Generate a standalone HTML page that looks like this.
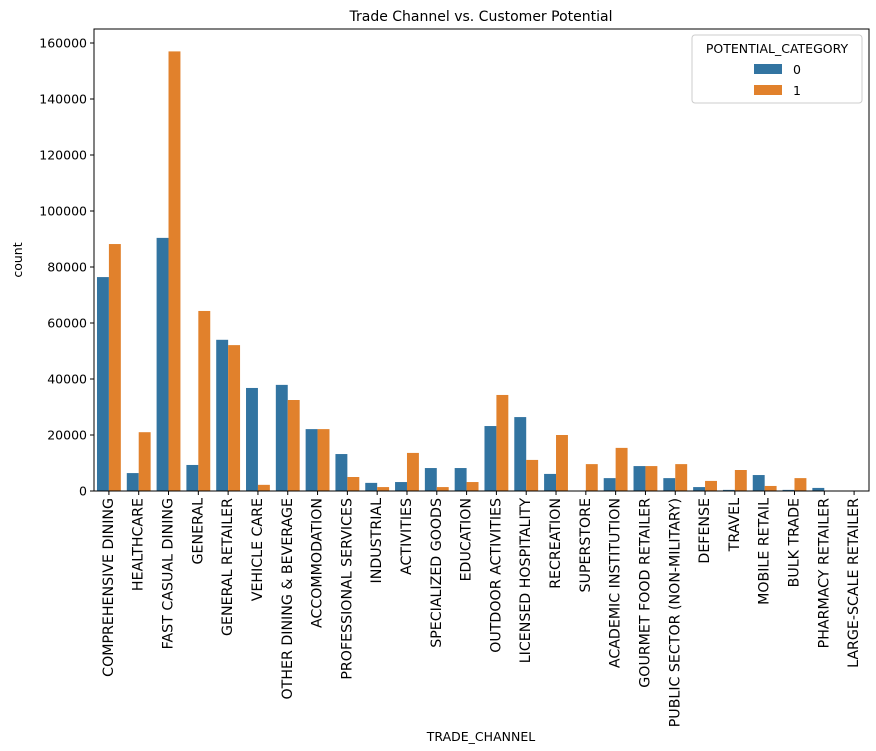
<!DOCTYPE html>
<html><head><meta charset="utf-8"><style>
body{margin:0;background:#fff;font-family:"Liberation Sans","DejaVu Sans",sans-serif}
svg text{font-family:"DejaVu Sans","Liberation Sans",sans-serif;fill:#000}
</style></head><body>
<svg id="chart" width="876" height="746" xmlns="http://www.w3.org/2000/svg">
<text x="481" y="21" font-size="14" text-anchor="middle">Trade Channel vs. Customer Potential</text>
<g id="plot"></g>
<text x="481" y="741" font-size="12.5" text-anchor="middle">TRADE_CHANNEL</text>
<text x="0" y="0" font-size="12.5" text-anchor="middle" transform="translate(22,260) rotate(-90)">count</text>
<g>
<rect x="692" y="35" width="170" height="68" rx="3" fill="#fff" stroke="#ccc" stroke-width="1"/>
<text x="777" y="53" font-size="12.5" text-anchor="middle">POTENTIAL_CATEGORY</text>
<rect x="754" y="64" width="28" height="10" fill="#3274a1"/>
<text x="793" y="74" font-size="12.5">0</text>
<rect x="754" y="85" width="28" height="10" fill="#e1812c"/>
<text x="793" y="95" font-size="12.5">1</text>
</g>
</svg>
<script>
const categories=["COMPREHENSIVE DINING","HEALTHCARE","FAST CASUAL DINING","GENERAL","GENERAL RETAILER","VEHICLE CARE","OTHER DINING & BEVERAGE","ACCOMMODATION","PROFESSIONAL SERVICES","INDUSTRIAL","ACTIVITIES","SPECIALIZED GOODS","EDUCATION","OUTDOOR ACTIVITIES","LICENSED HOSPITALITY","RECREATION","SUPERSTORE","ACADEMIC INSTITUTION","GOURMET FOOD RETAILER","PUBLIC SECTOR (NON-MILITARY)","DEFENSE","TRAVEL","MOBILE RETAIL","BULK TRADE","PHARMACY RETAILER","LARGE-SCALE RETAILER"];
const series0=[76400,6400,90400,9300,54000,36800,37900,22100,13200,2900,3200,8200,8200,23200,26400,6100,0,4600,8900,4600,1400,400,5700,400,1100,0];
const series1=[88200,21000,157000,64300,52100,2200,32500,22100,5000,1400,13600,1400,3200,34300,11100,20000,9600,15400,8900,9600,3600,7500,1800,4600,100,0];
const yTicks=[0,20000,40000,60000,80000,100000,120000,140000,160000];
const L=94,R=869,T=29,B=491;
const y=v=>B-v*0.0028;
const band=(R-L)/categories.length;
const x=i=>L+band*(i+0.5);
const g=document.getElementById('plot');
const NS="http://www.w3.org/2000/svg";
function mk(t,a){const e=document.createElementNS(NS,t);for(const k in a)e.setAttribute(k,a[k]);g.appendChild(e);return e;}
const bw=band*0.4;
categories.forEach((c,i)=>{
 const b0=mk('rect',{x:x(i)-bw,y:y(series0[i]),width:bw,height:B-y(series0[i]),fill:'#3274a1'});
 
 
 const b1=mk('rect',{x:x(i),y:y(series1[i]),width:bw,height:B-y(series1[i]),fill:'#e1812c'});
 
 
 mk('line',{x1:x(i),x2:x(i),y1:B,y2:B+4,stroke:'#000'});
 const t=mk('text',{'font-size':'14.2','text-anchor':'end',transform:`translate(${x(i)+4},${B+7}) rotate(-90)`});
 t.textContent=c;
 
 
});
yTicks.forEach(v=>{
 mk('line',{x1:L-4,x2:L,y1:y(v),y2:y(v),stroke:'#000'});
 const t=mk('text',{x:L-7,y:y(v)+4.5,'font-size':'12.5','text-anchor':'end'});
 t.textContent=v;
 
 
});
const fr=mk('rect',{x:L,y:T,width:R-L,height:B-T,fill:'none',stroke:'#000','stroke-width':1});


</script>
</body></html>
